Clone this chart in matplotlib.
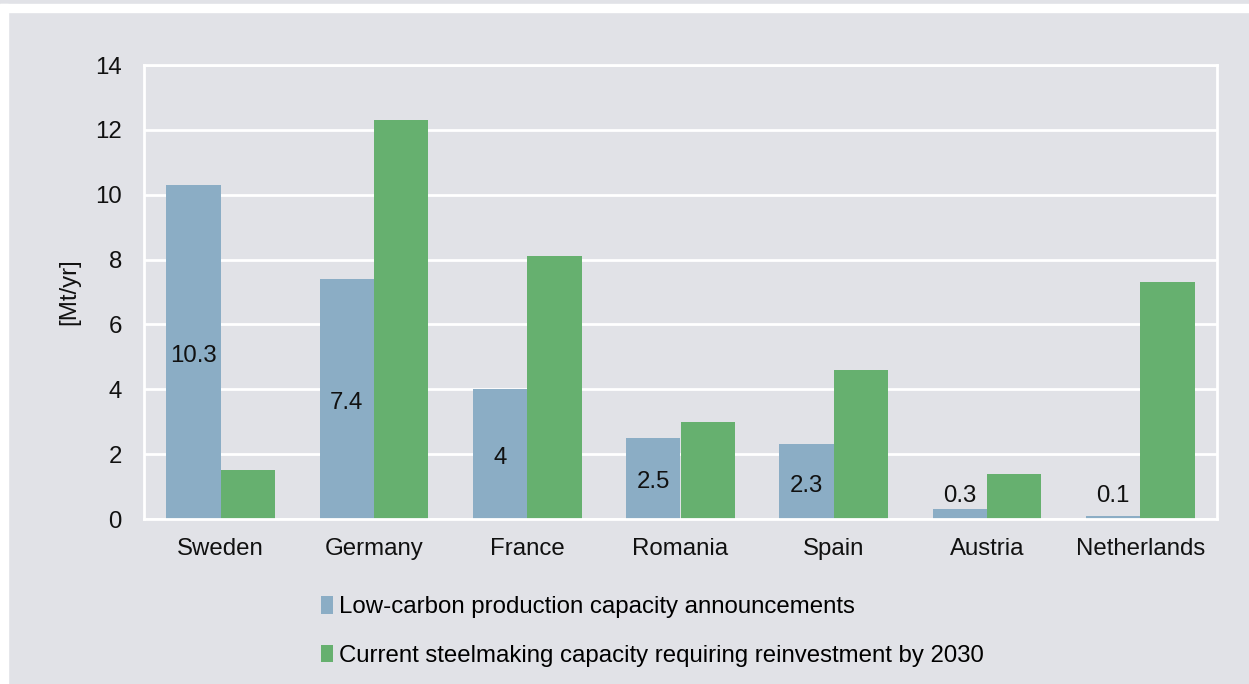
import matplotlib.pyplot as plt
from matplotlib.patches import Rectangle
import numpy as np

plt.rcParams['font.family'] = ['Liberation Sans', 'DejaVu Sans']

countries = ["Sweden", "Germany", "France", "Romania", "Spain", "Austria", "Netherlands"]
low_carbon = [10.3, 7.4, 4, 2.5, 2.3, 0.3, 0.1]
reinvest = [1.5, 12.3, 8.1, 3.0, 4.6, 1.4, 7.3]
labels = ["10.3", "7.4", "4", "2.5", "2.3", "0.3", "0.1"]

bg = "#e1e2e7"
blue = "#8badc5"
green = "#66b06f"
fs = 17.3

fig = plt.figure(figsize=(12.49, 6.84), dpi=100, facecolor=bg)
# white frame strips at top and left
fig.patches.append(Rectangle((0, 1 - 12 / 684), 1, 8 / 684, transform=fig.transFigure,
                             color="white", zorder=0))
fig.patches.append(Rectangle((0, 0), 8 / 1249, 1 - 4 / 684, transform=fig.transFigure,
                             color="white", zorder=0))

ax = fig.add_axes([144 / 1249, 1 - 519 / 684, (1217 - 144) / 1249, (519 - 65) / 684])
ax.set_facecolor(bg)

x = np.arange(len(countries))
w = 0.355
b1 = ax.bar(x - w / 2, low_carbon, w, color=blue, zorder=2,
            label="Low-carbon production capacity announcements")
b2 = ax.bar(x + w / 2, reinvest, w, color=green, zorder=2,
            label="Current steelmaking capacity requiring reinvestment by 2030")

for xi, v, lab in zip(x, low_carbon, labels):
    ypos = v / 2 - 0.12 if v >= 1 else 0.72
    ax.text(xi - w / 2, ypos, lab, ha="center", va="center", fontsize=fs, color="#111111", zorder=3)

ax.set_xlim(-0.5, len(countries) - 0.5)
ax.set_ylim(0, 14)
ax.set_yticks(range(0, 15, 2))
ax.set_xticks(x)
ax.set_xticklabels(countries)
ax.tick_params(axis="both", length=0, labelsize=fs, colors="#111111")
ax.tick_params(axis="x", pad=14)
ax.tick_params(axis="y", pad=16)
ax.grid(axis="y", color="white", linewidth=2, zorder=1)
for s in ax.spines.values():
    s.set_color("white")
    s.set_linewidth(2)
ax.set_ylabel("[Mt/yr]", fontsize=fs, color="#111111", labelpad=11)

fig.legend(handles=[b1, b2], loc="upper left", bbox_to_anchor=(309 / 1249, 1 - 584 / 684),
           frameon=False, fontsize=fs, handlelength=0.5, handleheight=0.75,
           handletextpad=0.25, labelspacing=1.1, borderpad=0)

fig.savefig("out.png", dpi=100, facecolor=bg)
